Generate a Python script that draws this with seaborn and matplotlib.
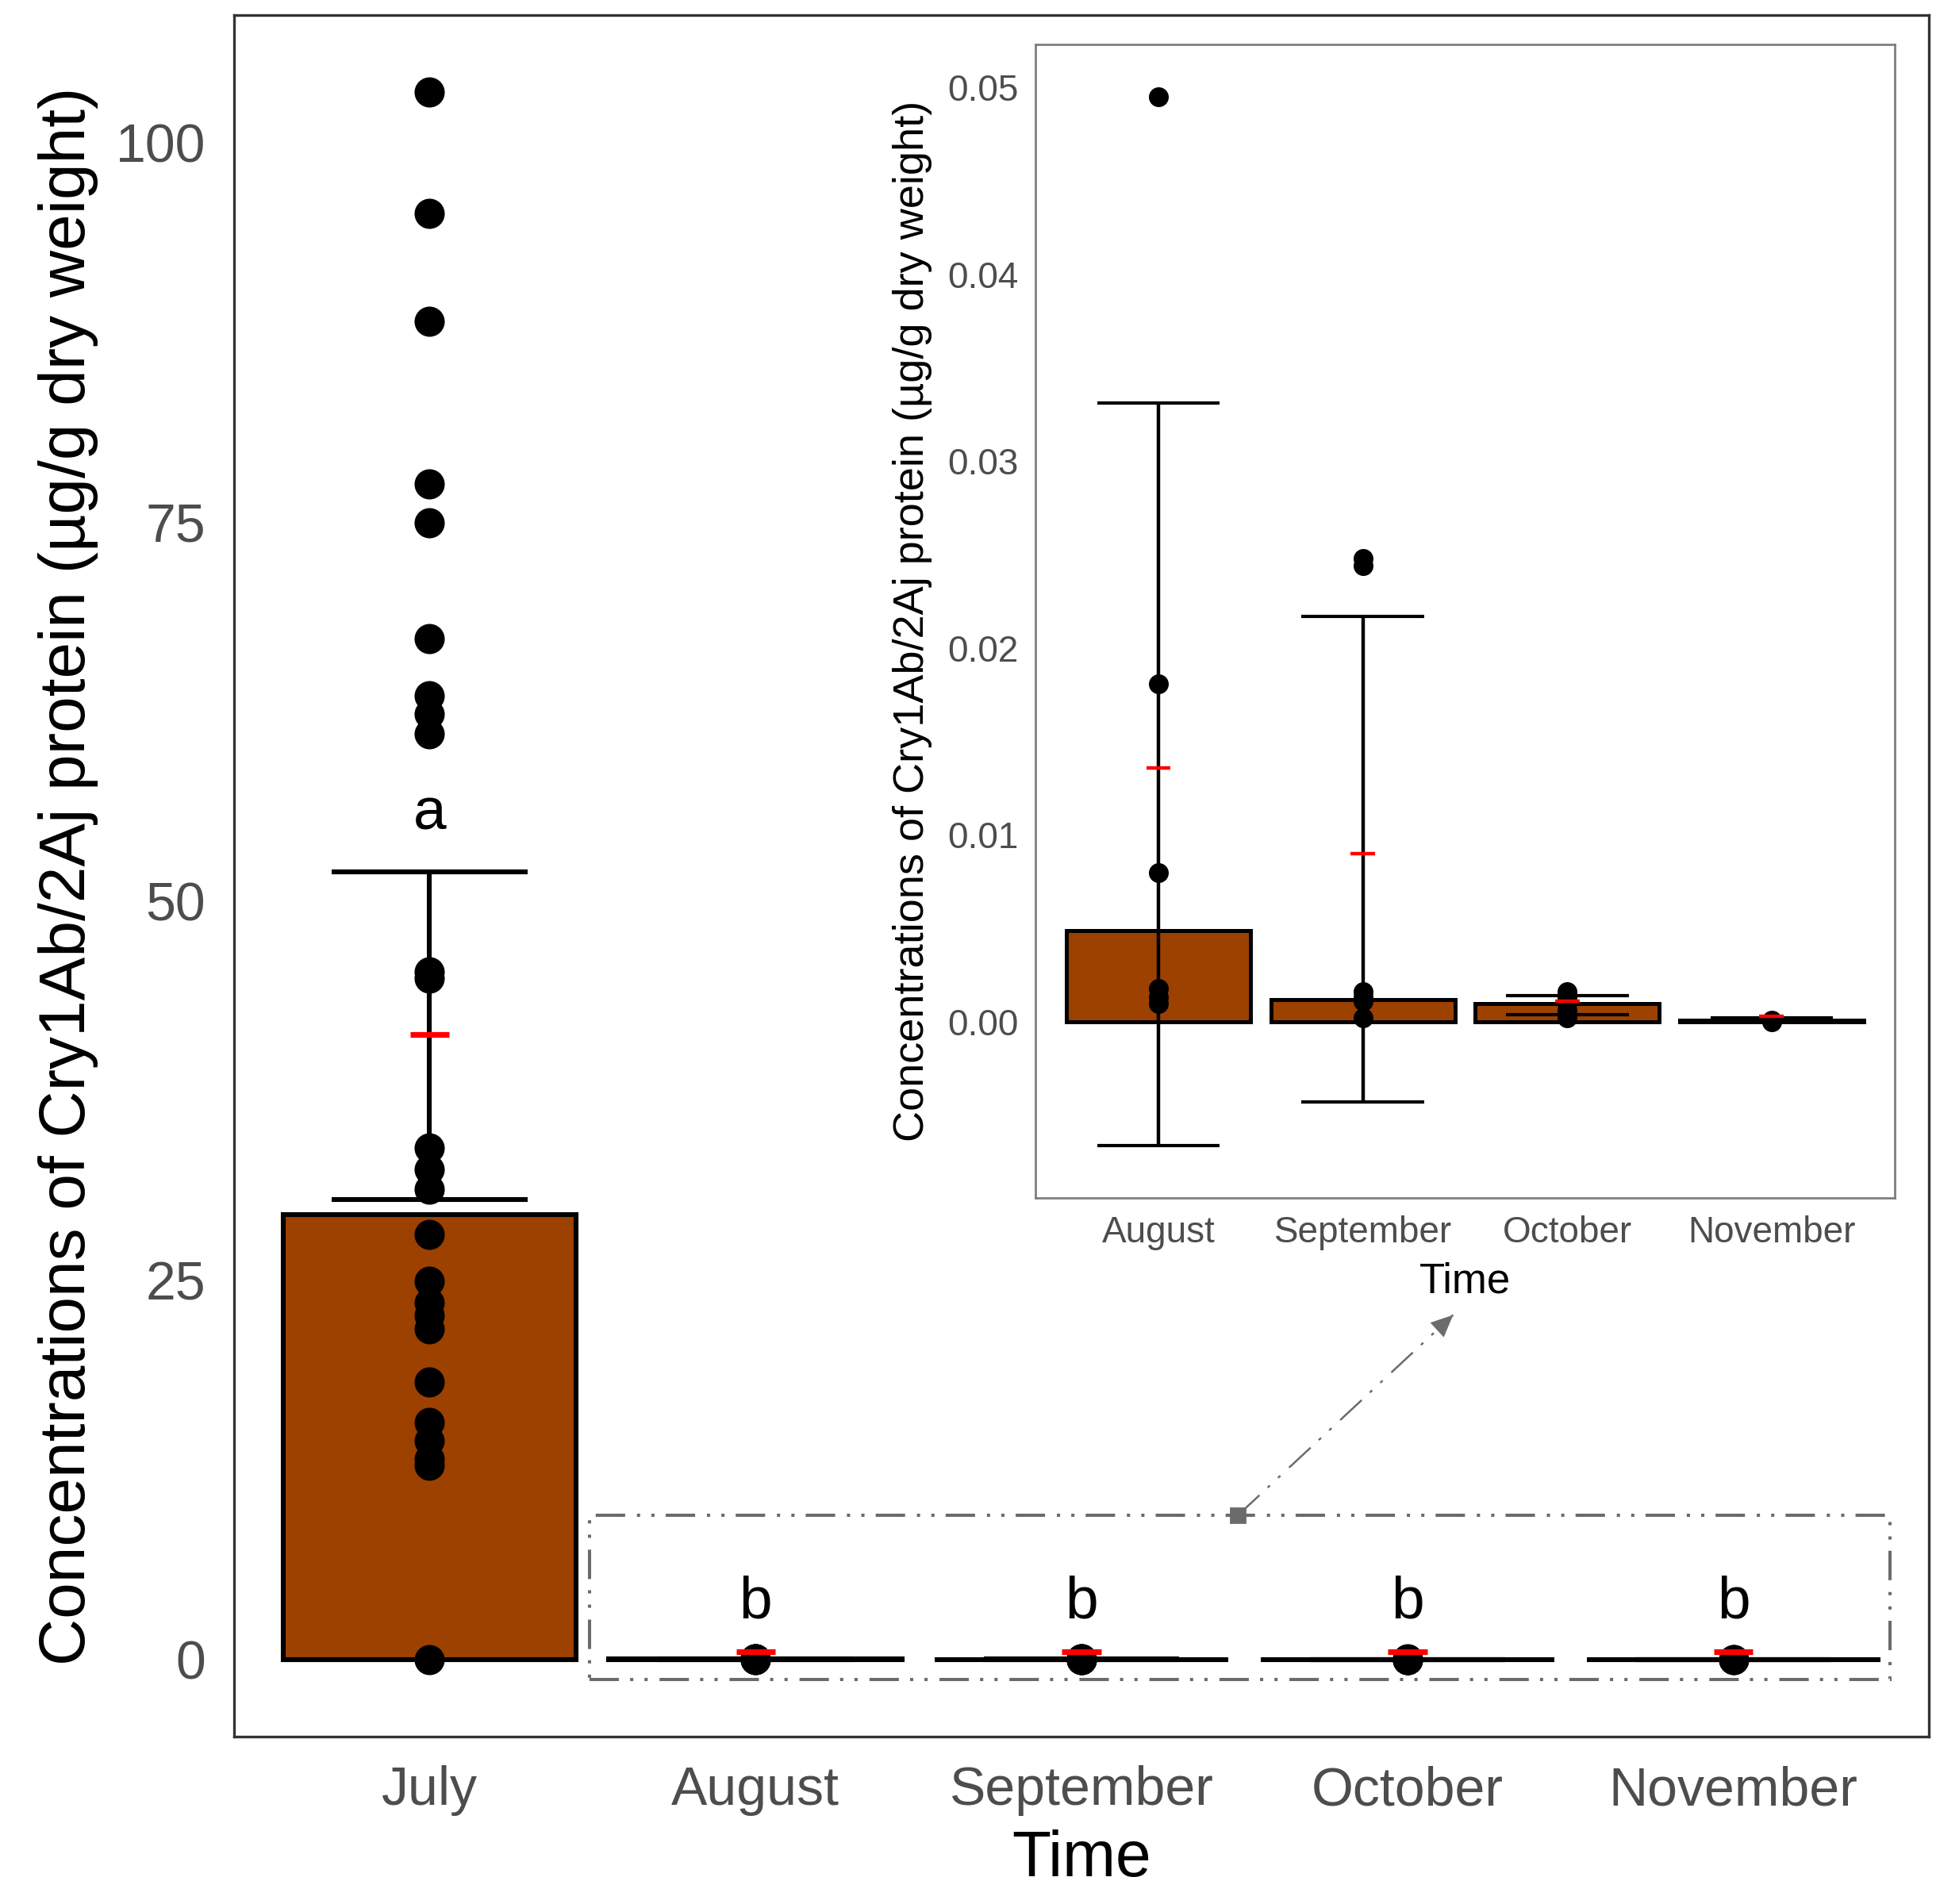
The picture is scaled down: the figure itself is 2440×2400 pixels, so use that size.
import numpy as np
import pandas as pd
import matplotlib
matplotlib.use("Agg")
import matplotlib.pyplot as plt
import matplotlib.patches as mpatches
import seaborn as sns

# Categories
months = ["July", "August", "September", "October", "November"]
inset_months = months[1:]

# Individual samples (µg/g dry weight)
july_pts = [103.3, 95.3, 88.2, 77.5, 74.9, 67.3, 63.5, 62.3, 61.0, 45.3, 44.9,
            33.7, 32.3, 31.0, 28.0, 24.9, 23.5, 22.7, 21.8, 18.3, 15.6, 14.4,
            13.2, 12.8, 0.0]
aug_pts = [0.0495, 0.0181, 0.0080, 0.0018, 0.0013, 0.0010]
sep_pts = [0.0248, 0.0244, 0.0016, 0.0013, 0.0011, 0.0002]
oct_pts = [0.0016, 0.0013, 0.0010, 0.0006, 0.0002]
nov_pts = [0.0000, 0.0001]

# Summary values
bar_height = [29.3, 0.0049, 0.0012, 0.0010, 0.0001]   # bars
mean_val = [41.2, 0.0136, 0.0090, 0.0011, 0.0003]     # red marks
err_low = [30.3, -0.0066, -0.0043, 0.0004, 0.0001]
err_high = [51.9, 0.0331, 0.0217, 0.0014, 0.0002]
main_mean_mark = [41.2, 0.5, 0.5, 0.5, 0.5]            # red marks as drawn in main panel
letters = ["a", "b", "b", "b", "b"]
letter_y = [54.7, 2.7, 2.7, 2.7, 2.7]

# Zoom box and arrow (main panel data units)
box_x = [0.49, 4.48]
box_y = [-1.35, 9.5]
arrow_from = (2.48, 9.5)
arrow_to = (3.14, 22.7)

BAR = "#9C4100"
GREY_TXT = "#4D4D4D"
GREY_LINE = "#333333"
DASH_GREY = "#6B6B6B"

sns.set_theme(style="white")
plt.rcParams["font.family"] = ["Liberation Sans", "DejaVu Sans"]

pts = {"July": july_pts, "August": aug_pts, "September": sep_pts,
       "October": oct_pts, "November": nov_pts}
df = pd.DataFrame([(m, v) for m in months for v in pts[m]], columns=["month", "value"])
summ = pd.DataFrame({"month": months, "bar": bar_height, "mean": mean_val,
                     "lo": err_low, "hi": err_high, "mark": main_mean_mark})

fig = plt.figure(figsize=(12.2, 12), dpi=200)

# ---------------- main panel ----------------
ax = fig.add_axes([0.1209, 0.0879, 0.8755, 0.9042])
sns.barplot(data=summ, x="month", y="bar", order=months, width=0.9, color=BAR,
            saturation=1, edgecolor="black", linewidth=2.2, errorbar=None, ax=ax)
xs = np.arange(len(months))
ax.vlines(xs, summ["lo"], summ["hi"], color="black", lw=2.2, zorder=3)
ax.hlines(summ["lo"], xs - 0.3, xs + 0.3, color="black", lw=2.2, zorder=3)
ax.hlines(summ["hi"], xs - 0.3, xs + 0.3, color="black", lw=2.2, zorder=3)
sns.stripplot(data=df, x="month", y="value", order=months, jitter=False,
              color="black", size=13.7, linewidth=0, zorder=4, ax=ax)
ax.hlines(summ["mark"], xs - 0.06, xs + 0.06, color="red", lw=2.6, zorder=5)
for x, lab, ly in zip(xs, letters, letter_y):
    ax.text(x, ly, lab, ha="center", va="baseline", fontsize=27, color="black", zorder=6)

ax.add_patch(mpatches.Rectangle((box_x[0], box_y[0]), box_x[1] - box_x[0], box_y[1] - box_y[0],
                                fill=False, ec=DASH_GREY, lw=1.45,
                                ls=(0, (9.2, 3.5, 1.0, 3.5, 1.0, 3.7)), zorder=2))
ax.plot([arrow_from[0], arrow_to[0]], [arrow_from[1], arrow_to[1]], color=DASH_GREY,
        lw=0.9, ls=(0, (14.8, 5.6, 1.6, 5.6, 1.6, 6.0)), zorder=2)
ax.plot([arrow_from[0]], [arrow_from[1]], marker="s", ms=6.5, color=DASH_GREY, zorder=2)
ax.annotate("", xy=arrow_to, xytext=arrow_from,
            arrowprops=dict(arrowstyle="-|>,head_length=1.0,head_width=0.45", lw=0,
                            color=DASH_GREY, shrinkA=0, shrinkB=0, mutation_scale=10))

ax.set_xlim(-0.6, 4.6)
ax.set_ylim(-5.1, 108.4)
ax.set_yticks([0, 25, 50, 75, 100])
ax.tick_params(axis="both", direction="out", length=7, width=1.2, color=GREY_LINE,
               labelcolor=GREY_TXT, labelsize=24.5, pad=6)
for s in ax.spines.values():
    s.set_visible(True)
    s.set_color(GREY_LINE)
    s.set_linewidth(1.2)
ax.set_xlabel("Time", fontsize=29, color="black")
ax.xaxis.set_label_coords(0.5, -0.0809)
ax.xaxis.label.set_va("baseline")
ax.set_ylabel("Concentrations of Cry1Ab/2Aj protein (µg/g dry weight)", fontsize=29.5, color="black")
ax.yaxis.set_label_coords(-0.0978, 0.5)
ax.yaxis.label.set_va("center")

# ---------------- inset ----------------
ins = fig.add_axes([0.535, 0.371, 0.4435, 0.6058])
ins.set_facecolor("white")
isumm = summ[summ["month"].isin(inset_months)]
idf = df[df["month"].isin(inset_months)]
sns.barplot(data=isumm, x="month", y="bar", order=inset_months, width=0.9, color=BAR,
            saturation=1, edgecolor="black", linewidth=1.8, errorbar=None, ax=ins)
ix = np.arange(len(inset_months))
ins.vlines(ix, isumm["lo"], isumm["hi"], color="black", lw=1.6, zorder=3)
ins.hlines(isumm["lo"], ix - 0.3, ix + 0.3, color="black", lw=1.5, zorder=3)
ins.hlines(isumm["hi"], ix - 0.3, ix + 0.3, color="black", lw=1.5, zorder=3)
sns.stripplot(data=idf, x="month", y="value", order=inset_months, jitter=False,
              color="black", size=9, linewidth=0, zorder=4, ax=ins)
ins.hlines(isumm["mean"], ix - 0.06, ix + 0.06, color="red", lw=1.6, zorder=5)

ins.set_xlim(-0.6, 3.6)
ins.set_ylim(-0.0094, 0.0523)
ins.set_yticks([0, 0.01, 0.02, 0.03, 0.04, 0.05])
ins.set_yticklabels([f"{t:.2f}" for t in [0, 0.01, 0.02, 0.03, 0.04, 0.05]])
ins.tick_params(axis="both", direction="out", length=5, width=1.0, color=GREY_LINE,
                labelcolor=GREY_TXT, labelsize=16.5, pad=3)
for s in ins.spines.values():
    s.set_visible(True)
    s.set_color("#7F7F7F")
    s.set_linewidth(1.0)
ins.set_xlabel("Time", fontsize=19, color="black")
ins.xaxis.set_label_coords(0.5, -0.0825)
ins.xaxis.label.set_va("baseline")
ins.set_ylabel("Concentrations of Cry1Ab/2Aj protein (µg/g dry weight)", fontsize=19.5, color="black")
ins.yaxis.set_label_coords(-0.144, 0.5)
ins.yaxis.label.set_va("center")

fig.savefig("out.png", dpi=200, facecolor="white")
